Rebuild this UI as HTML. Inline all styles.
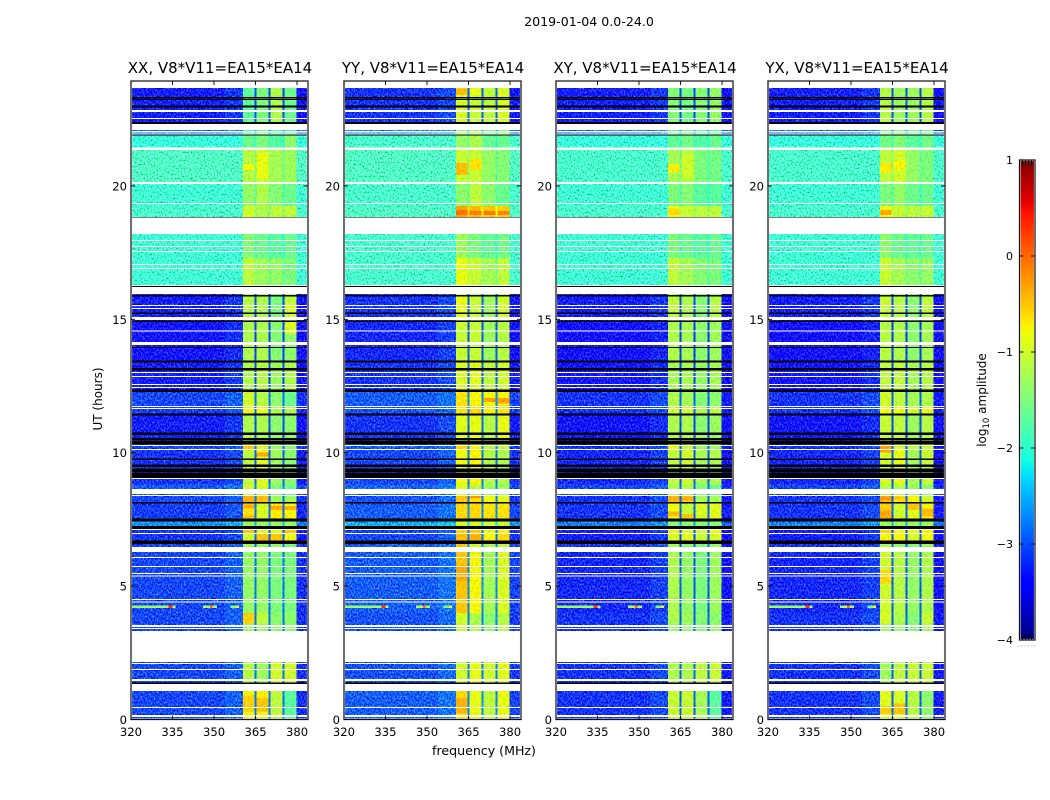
<!DOCTYPE html>
<html lang="en">
<head>
<meta charset="utf-8">
<title>2019-01-04 amplitude spectrograms</title>
<style>
html,body{margin:0;padding:0;background:#fff}
#chart{display:block;width:1050px;height:800px}
text{font-family:"DejaVu Sans","Liberation Sans",sans-serif;fill:#000}
</style>
</head>
<body>
<svg id="chart" xmlns="http://www.w3.org/2000/svg" width="1050" height="800" viewBox="0 0 1050 800">
  <defs>
    <filter id="grain" x="0" y="0" width="100%" height="100%" color-interpolation-filters="sRGB">
      <feTurbulence type="fractalNoise" baseFrequency="0.7 0.5" numOctaves="1" seed="7" result="n"/>
      <feColorMatrix in="n" type="matrix" values="1 0 0 0 0  1 0 0 0 0  1 0 0 0 0  0 0 0 0 1" result="g"/>
      <feComposite in="SourceGraphic" in2="g" operator="arithmetic" k1="0" k2="1" k3="1.1" k4="-0.49"/>
    </filter>
    <filter id="grain-soft" x="0" y="0" width="100%" height="100%" color-interpolation-filters="sRGB">
      <feTurbulence type="fractalNoise" baseFrequency="0.5 0.4" numOctaves="1" seed="3" result="n"/>
      <feColorMatrix in="n" type="matrix" values="1 0 0 0 0  1 0 0 0 0  1 0 0 0 0  0 0 0 0 1" result="g"/>
      <feComposite in="SourceGraphic" in2="g" operator="arithmetic" k1="0" k2="1" k3="0.28" k4="-0.14"/>
    </filter>
  </defs>
  <text x="589" y="26" font-size="12.6" text-anchor="middle">2019-01-04 0.0-24.0</text>
  <text x="484" y="755" font-size="12.6" text-anchor="middle">frequency (MHz)</text>
  <text transform="translate(102 399) rotate(-90)" font-size="12" text-anchor="middle">UT (hours)</text>
  <text transform="translate(986 400) rotate(-90)" font-size="12" text-anchor="middle">log<tspan font-size="8.5" dy="3">10</tspan><tspan dy="-3"> amplitude</tspan></text>
  <g id="panels"></g>
  <g id="colorbar"></g>
</svg>
<script>
// ---- Data ----
const panelNames = ['XX', 'YY', 'XY', 'YX'];
const xTickLabels = [320, 335, 350, 365, 380];
const yTickLabels = [0, 5, 10, 15, 20];
const colorbarTicks = [1, 0, -1, -2, -3, -4];
const titleSuffix = ', V8*V11=EA15*EA14';

// Frequency columns in MHz: background, four sub-bands with notches between, tail.
const bandEdges = [[360.5, 364.7], [365.4, 369.7], [370.4, 374.7], [375.4, 379.8]];
const notchEdges = [[364.7, 365.4], [369.7, 370.4], [374.7, 375.4]];

// Time slabs (UT hours) for the level tables below.
const slabEdges = [0, 1.07, 2.16, 3.6, 4.0, 6.28, 6.58, 6.95, 7.14, 7.45, 8.1, 8.4, 8.8, 10.1, 10.3, 11.4, 11.75, 12.3, 13.4, 14.9, 15.95, 16.25, 17.3, 18.2, 18.82, 19.25, 20.1, 21.4, 21.9, 22.3, 23.95];

// log10 amplitude per slab: [background, band1, band2, band3, band4]
const levelsXX = [
 [-3.1,-0.75,-0.7,-1.1,-1.7],[-3.1,-1.15,-1.3,-1.0,-1.0],[-3.1,-1.3,-1.3,-1.4,-1.4],[-3.1,-0.55,-1.1,-1.4,-1.4],
 [-3.1,-1.35,-1.35,-1.5,-1.5],[-3.1,-1.3,-1.3,-1.4,-1.5],[-3.2,-1.0,-0.5,-0.5,-0.8],[-3.2,-0.5,-0.9,-0.9,-0.5],
 [-2.75,-1.3,-1.3,-1.3,-1.3],[-3.15,-0.65,-0.95,-0.7,-0.75],[-3.1,-0.4,-0.45,-1.3,-1.3],[-3.0,-1.0,-1.0,-1.5,-1.6],
 [-3.2,-1.1,-0.9,-1.3,-1.4],[-3.1,-0.5,-0.9,-1.3,-1.4],[-3.3,-1.2,-1.2,-1.4,-1.4],[-3.15,-0.85,-0.85,-1.2,-1.2],
 [-3.1,-1.0,-1.15,-1.4,-1.6],[-3.3,-1.2,-1.15,-1.3,-1.2],[-3.35,-1.2,-1.2,-1.45,-1.4],[-3.3,-1.15,-1.2,-1.5,-1.1],
 [-3.3,-1.2,-1.2,-1.4,-1.2],[-1.95,-1.1,-1.3,-1.35,-1.5],[-1.95,-1.45,-1.6,-1.7,-1.6],[-1.95,-1.4,-1.4,-1.4,-1.4],
 [-1.9,-1.0,-1.2,-1.1,-1.1],[-1.95,-1.35,-1.2,-1.45,-1.6],[-1.85,-1.15,-1.0,-1.25,-1.3],[-2.0,-1.6,-1.5,-1.75,-1.4],
 [-2.9,-1.8,-1.6,-1.8,-1.8],[-3.3,-1.7,-1.5,-1.2,-1.6]];
const levelsYY = [
 [-3.0,-0.6,-0.85,-1.1,-0.85],[-3.05,-1.0,-0.85,-1.0,-0.9],[-3.05,-1.05,-1.2,-1.35,-1.15],[-3.05,-1.0,-1.2,-1.4,-1.15],
 [-3.0,-0.5,-0.75,-1.25,-0.95],[-3.0,-0.5,-1.0,-1.2,-1.1],[-3.1,-0.45,-0.4,-0.75,-0.6],[-3.1,-0.55,-0.55,-0.8,-0.7],
 [-2.6,-0.95,-0.95,-1.0,-1.0],[-3.0,-0.6,-0.6,-0.65,-0.65],[-3.05,-0.5,-0.6,-0.8,-0.85],[-2.95,-0.9,-1.1,-1.3,-1.3],
 [-3.1,-0.8,-0.75,-1.15,-1.2],[-3.0,-0.6,-0.8,-1.1,-1.1],[-3.2,-0.9,-0.85,-1.15,-0.85],[-3.05,-0.65,-0.6,-0.75,-0.65],
 [-3.0,-0.65,-0.75,-0.75,-0.75],[-3.2,-0.95,-0.9,-1.1,-1.0],[-3.25,-1.05,-1.05,-1.3,-1.15],[-3.2,-0.85,-1.05,-1.3,-1.0],
 [-3.2,-1.0,-1.0,-1.2,-1.0],[-1.9,-0.85,-1.05,-1.25,-1.1],[-1.9,-1.3,-1.5,-1.65,-1.55],[-1.9,-1.2,-1.2,-1.2,-1.2],
 [-1.85,-0.3,-0.45,-0.5,-0.55],[-1.9,-1.4,-1.1,-1.4,-1.6],[-1.85,-1.05,-1.05,-1.35,-1.45],[-1.9,-1.35,-1.2,-1.65,-1.6],
 [-2.8,-1.3,-1.2,-1.5,-1.4],[-3.2,-0.95,-1.05,-1.1,-0.95]];
const levelsXY = [
 [-3.2,-1.05,-1.05,-1.25,-1.7],[-3.2,-1.2,-1.2,-1.1,-1.05],[-3.2,-1.35,-1.4,-1.45,-1.35],[-3.2,-1.2,-1.3,-1.45,-1.4],
 [-3.25,-1.2,-1.35,-1.5,-1.3],[-3.2,-1.25,-1.4,-1.5,-1.35],[-3.3,-0.95,-0.9,-1.05,-0.95],[-3.3,-0.75,-1.0,-1.0,-0.85],
 [-2.85,-1.4,-1.4,-1.4,-1.4],[-3.2,-0.8,-1.05,-0.95,-0.9],[-3.2,-0.5,-0.6,-1.25,-1.25],[-3.1,-1.2,-1.2,-1.5,-1.6],
 [-3.25,-1.1,-1.0,-1.25,-1.2],[-3.2,-0.85,-1.1,-1.3,-1.3],[-3.35,-1.2,-1.2,-1.4,-1.3],[-3.2,-1.0,-1.0,-1.2,-1.1],
 [-3.2,-1.2,-1.25,-1.45,-1.4],[-3.35,-1.25,-1.25,-1.35,-1.25],[-3.4,-1.2,-1.25,-1.4,-1.3],[-3.3,-1.1,-1.2,-1.45,-1.15],
 [-3.3,-1.2,-1.2,-1.4,-1.2],[-1.95,-1.1,-1.25,-1.45,-1.5],[-1.95,-1.5,-1.6,-1.7,-1.6],[-1.95,-1.4,-1.4,-1.4,-1.4],
 [-1.9,-0.85,-1.05,-1.1,-1.1],[-1.95,-1.5,-1.45,-1.7,-1.7],[-1.9,-1.25,-1.15,-1.5,-1.55],[-2.0,-1.65,-1.55,-1.75,-1.6],
 [-2.9,-1.6,-1.6,-1.7,-1.7],[-3.3,-1.45,-1.55,-1.45,-1.35]];
const levelsYX = [
 [-3.2,-0.9,-0.95,-1.15,-1.4],[-3.2,-1.3,-1.1,-1.05,-1.05],[-3.2,-1.3,-1.3,-1.45,-1.25],[-3.2,-0.95,-1.2,-1.45,-1.05],
 [-3.25,-1.0,-1.15,-1.35,-1.2],[-3.2,-1.2,-1.35,-1.45,-1.3],[-3.3,-0.75,-0.75,-0.95,-0.8],[-3.3,-0.6,-0.8,-0.9,-0.7],
 [-2.8,-1.25,-1.3,-1.3,-1.3],[-3.2,-0.55,-1.0,-0.9,-0.75],[-3.2,-0.45,-0.65,-0.75,-1.0],[-3.1,-1.15,-1.2,-1.3,-1.4],
 [-3.25,-0.95,-0.85,-1.25,-1.05],[-3.2,-0.5,-1.0,-1.1,-1.05],[-3.35,-1.05,-1.1,-1.3,-1.15],[-3.2,-0.8,-0.8,-1.0,-0.85],
 [-3.2,-1.0,-1.1,-1.25,-1.2],[-3.35,-1.1,-1.1,-1.25,-1.15],[-3.4,-1.15,-1.2,-1.4,-1.25],[-3.3,-1.05,-1.15,-1.4,-1.1],
 [-3.3,-1.1,-1.1,-1.3,-1.1],[-1.95,-1.05,-1.25,-1.4,-1.35],[-1.95,-1.4,-1.6,-1.65,-1.6],[-1.95,-1.3,-1.3,-1.3,-1.3],
 [-1.9,-0.75,-1.05,-1.1,-1.05],[-1.95,-1.5,-1.35,-1.6,-1.6],[-1.9,-1.1,-1.0,-1.35,-1.5],[-2.0,-1.55,-1.45,-1.7,-1.55],
 [-2.9,-1.5,-1.5,-1.6,-1.6],[-3.3,-1.15,-1.3,-1.3,-1.15]];
const panelLevels = [levelsXX, levelsYY, levelsXY, levelsYX];

// Bright patches inside sub-bands: [band index, start hour, end hour, level]
const hotspotsXX = [[0,20.6,20.8,-0.75],[1,20.3,21.2,-0.85],[0,0.3,0.9,-0.55],[1,0.3,0.8,-0.5],[3,14.45,15.6,-0.95],[0,7.9,8.05,-0.35],[0,7.55,7.65,-0.45],[2,7.85,8.0,-0.35],[3,7.85,8.0,-0.4],[1,9.85,10.0,-0.35]];
const hotspotsYY = [[0,20.4,20.85,-0.45],[1,20.6,21.0,-0.65],[0,23.4,23.65,-0.45],[1,23.4,23.65,-0.85],[0,18.9,19.1,-0.05],[1,18.9,19.05,-0.1],[2,18.9,19.05,-0.1],[3,18.9,19.05,-0.15],[0,5.2,5.8,-0.35],[0,0.25,0.8,-0.4],[1,8.3,8.4,-0.25],[2,11.9,12.05,-0.3],[3,11.85,12.05,-0.3]];
const hotspotsXY = [[0,20.5,20.8,-0.7],[1,20.3,21.2,-1.0],[0,18.9,19.15,-0.6],[0,8.2,8.35,-0.35],[1,8.2,8.35,-0.35],[0,7.6,7.8,-0.45],[1,7.55,7.7,-0.5]];
const hotspotsYX = [[0,20.5,20.85,-0.7],[1,20.6,20.95,-0.75],[0,18.9,19.1,-0.35],[0,8.2,8.35,-0.25],[1,8.25,8.35,-0.5],[0,7.5,7.85,-0.35],[2,7.85,8.15,-0.5],[3,7.6,7.9,-0.45],[0,0.2,0.5,-0.55],[1,0.2,0.6,-0.5],[0,5.1,5.6,-0.6],[0,10.0,10.3,-0.3]];
const panelHotspots = [hotspotsXX, hotspotsYY, hotspotsXY, hotspotsYX];

// Interference spans near 4.2 UT: [startMHz, endMHz, level]
const rfiSpans = [[320,333.5,-1.3],[333.5,335,0.3],[335,336,-1.2],[346,348.5,-1.2],[348.5,349.5,0.0],[349.5,351,-1.2],[356,358,-1.5],[358,359,-0.8]];
const rfiHours = [[4.18,4.27]];

// Fully blank (white) and flagged (black) time ranges in UT hours.
const whiteRanges = [[23.67,23.95],[22.77,22.85],[22.51,22.55],[22.1,22.32],[22.0,22.06],[21.93,21.96],[21.35,21.44],[20.07,20.15],[19.32,19.36],[18.2,18.82],[17.94,17.97],[17.71,17.75],[17.52,17.56],[17.04,17.07],[16.89,16.93],[16.25,16.29],[15.95,16.21],[15.5,15.54],[15.39,15.42],[14.97,15.08],[14.54,14.58],[14.04,14.15],[12.99,13.02],[12.84,12.87],[12.54,12.57],[12.43,12.46],[11.71,11.75],[11.64,11.67],[10.25,10.29],[10.1,10.14],[9.02,9.06],[8.45,8.64],[8.38,8.42],[7.1,7.14],[6.95,6.99],[6.28,6.47],[6.05,6.09],[5.72,5.75],[5.45,5.49],[5.36,5.4],[4.48,4.52],[4.39,4.42],[3.47,3.54],[3.39,3.43],[3.24,3.32],[2.16,3.24],[2.08,2.12],[1.86,1.9],[1.44,1.52],[1.07,1.33],[0.43,0.47],[0.09,0.17]];
const blackRanges = [[23.28,23.34],[23.22,23.25],[22.94,23.02],[22.31,22.4],[21.88,21.93],[18.78,18.84],[16.2,16.25],[15.86,15.92],[15.19,15.25],[14.89,14.96],[13.92,13.97],[13.39,13.45],[13.09,13.17],[12.27,12.36],[11.4,11.46],[10.66,10.75],[10.48,10.56],[10.3,10.46],[9.72,9.78],[9.47,9.55],[9.27,9.4],[9.06,9.25],[8.1,8.16],[7.43,7.53],[7.14,7.26],[6.57,6.7],[1.33,1.38]];

// ---- Axis geometry ----
const panelLeft = [131, 344, 556, 768];
const panelWidth = 177, plotTop = 81, plotBottom = 719.5;
const pxPerMHz = 2.767, pxPerHour = 26.68;
const NS = 'http://www.w3.org/2000/svg';
function xScale(p, f) { return panelLeft[p] + (f - 320) * pxPerMHz; }
function yScale(t) { return plotBottom - t * pxPerHour; }
const cbLeft = 1019.5, cbRight = 1035, cbTop = 160, cbBottom = 640;
function cbScale(v) { return cbTop + (1 - v) * (cbBottom - cbTop) / 5; }

function interp(t, pts) {
  for (let i = 1; i < pts.length; i++) {
    if (t <= pts[i][0]) {
      const a = pts[i - 1], b = pts[i];
      return a[1] + (b[1] - a[1]) * (t - a[0]) / (b[0] - a[0]);
    }
  }
  return pts[pts.length - 1][1];
}
function jet(v) {
  const t = Math.max(0, Math.min(1, (v + 4) / 5));
  const r = interp(t, [[0,0],[0.35,0],[0.66,1],[0.89,1],[1,0.5]]);
  const g = interp(t, [[0,0],[0.125,0],[0.375,1],[0.64,1],[0.91,0],[1,0]]);
  const b = interp(t, [[0,0.5],[0.11,1],[0.34,1],[0.65,0],[1,0]]);
  return 'rgb(' + Math.round(r * 255) + ',' + Math.round(g * 255) + ',' + Math.round(b * 255) + ')';
}
function make(tag, parent) {
  const el = document.createElementNS(NS, tag);
  parent.appendChild(el);
  return el;
}
function setAll(el, attrs) { for (const k in attrs) el.setAttribute(k, attrs[k]); }

function cell(group, p, f0, f1, t0, t1, fill) {
  const el = make('rect', group);
  
  
  setAll(el, { x: xScale(p, f0), y: yScale(t1), width: (f1 - f0) * pxPerMHz, height: (t1 - t0) * pxPerHour, fill: fill, 'shape-rendering': 'crispEdges' });
  return el;
}
function hband(group, p, range, fill, name) {
  const el = make('rect', group);
  
  
  setAll(el, { x: panelLeft[p], y: yScale(range[1]), width: panelWidth, height: (range[1] - range[0]) * pxPerHour, fill: fill, 'shape-rendering': 'crispEdges' });
}
function tick(group, x1, y1, x2, y2) {
  const el = make('line', group);
  
  
  setAll(el, { x1: x1, y1: y1, x2: x2, y2: y2, stroke: '#000', 'stroke-width': 0.9 });
}
function label(group, x, y, str, anchor, size, name) {
  const el = make('text', group);
  
  
  setAll(el, { x: x, y: y, 'text-anchor': anchor, 'font-size': size });
  el.textContent = str;
}

// ---- Panels ----
const maxFreq = 320 + panelWidth / pxPerMHz;
const panelsRoot = document.getElementById('panels');
panelNames.forEach(function (name, p) {
  const g = make('g', panelsRoot);
  
  

  const bg = make('g', g);
  
  
  bg.setAttribute('filter', 'url(#grain)');
  const bands = make('g', g);
  
  
  bands.setAttribute('filter', 'url(#grain-soft)');

  panelLevels[p].forEach(function (row, s) {
    const t0 = slabEdges[s], t1 = slabEdges[s + 1];
    const isBlue = row[0] < -2.5;
    cell(bg, p, 320, 354, t0, t1, jet(row[0]));
    cell(bg, p, 354, bandEdges[0][0], t0, t1, jet(row[0] + (isBlue ? 0.12 : 0)));
    cell(bg, p, bandEdges[3][1], maxFreq, t0, t1, jet(row[0] - (isBlue ? 0.12 : 0)));
    bandEdges.forEach(function (e, b) {
      cell(bands, p, e[0], e[1], t0, t1, jet(row[b + 1]));
    });
    notchEdges.forEach(function (e, b) {
      cell(bands, p, e[0], e[1], t0, t1, jet(isBlue ? row[0] + 0.3 : row[b + 1] - 0.3));
    });
  });
  panelHotspots[p].forEach(function (h) {
    const e = bandEdges[h[0]];
    cell(bands, p, e[0], e[1], h[1], h[2], jet(h[3]));
  });

  const rfi = make('g', g);
  
  
  rfiHours.forEach(function (h) {
    rfiSpans.forEach(function (sp) {
      cell(rfi, p, sp[0], sp[1], h[0], h[1], jet(sp[2]));
    });
  });

  const flags = make('g', g);
  
  
  blackRanges.forEach(function (r) { hband(flags, p, r, '#000', 'flagged-row'); });
  whiteRanges.forEach(function (r) { hband(flags, p, r, '#fff', 'blank-row'); });

  const halo = make('rect', g);
  
  
  setAll(halo, { x: panelLeft[p], y: plotTop, width: panelWidth, height: plotBottom - plotTop, fill: 'none', stroke: '#ccc', 'stroke-width': 2.2 });
  const frame = make('rect', g);
  
  
  setAll(frame, { x: panelLeft[p], y: plotTop, width: panelWidth, height: plotBottom - plotTop, fill: 'none', stroke: '#111', 'stroke-width': 1 });

  const axes = make('g', g);
  
  
  xTickLabels.forEach(function (f) {
    const x = xScale(p, f);
    tick(axes, x, plotBottom, x, plotBottom - 4);
    tick(axes, x, plotTop, x, plotTop + 4);
    label(axes, x, 736, String(f), 'middle', 11.6, 'x-tick-label');
  });
  yTickLabels.forEach(function (t) {
    const y = yScale(t);
    tick(axes, panelLeft[p], y, panelLeft[p] + 4, y);
    tick(axes, panelLeft[p] + panelWidth, y, panelLeft[p] + panelWidth - 4, y);
    label(axes, panelLeft[p] - 4, y + 4.5, String(t), 'end', 11.6, 'y-tick-label');
  });
  label(g, panelLeft[p] + panelWidth / 2 + 0.5, 73, name + titleSuffix, 'middle', 15, 'panel-title');
});

// ---- Colorbar ----
const cb = document.getElementById('colorbar');
const ramp = make('g', cb);


for (let i = 0; i < 240; i++) {
  const v = 1 - (i + 0.5) * 5 / 240;
  const el = make('rect', ramp);
  
  
  setAll(el, { x: cbLeft, y: cbScale(v) - 1, width: cbRight - cbLeft, height: 2.2, fill: jet(v), 'shape-rendering': 'crispEdges' });
}
const cbHalo = make('rect', cb);


setAll(cbHalo, { x: cbLeft, y: cbTop, width: cbRight - cbLeft, height: cbBottom - cbTop, fill: 'none', stroke: '#ccc', 'stroke-width': 2.2 });
const cbFrame = make('rect', cb);


setAll(cbFrame, { x: cbLeft, y: cbTop, width: cbRight - cbLeft, height: cbBottom - cbTop, fill: 'none', stroke: '#111', 'stroke-width': 1 });
colorbarTicks.forEach(function (v) {
  const y = cbScale(v);
  tick(cb, cbLeft, y, cbLeft + 4, y);
  tick(cb, cbRight, y, cbRight - 4, y);
  label(cb, 1013, y + 3.8, String(v).replace('-', '\u2212'), 'end', 11, 'colorbar-tick-label');
});
[1022.5, 1025.5, 1028.5, 1031.5].forEach(function (x) {
  tick(cb, x, cbTop, x, cbTop + 6);
  tick(cb, x, cbBottom, x, cbBottom - 6);
});
[1017.5, 1021, 1024.5, 1028, 1031.5, 1034.5].forEach(function (x) {
  const d = make('rect', cb);
  
  
  setAll(d, { x: x, y: 645.5, width: 1, height: 1, fill: '#999' });
});
</script>
</body>
</html>
